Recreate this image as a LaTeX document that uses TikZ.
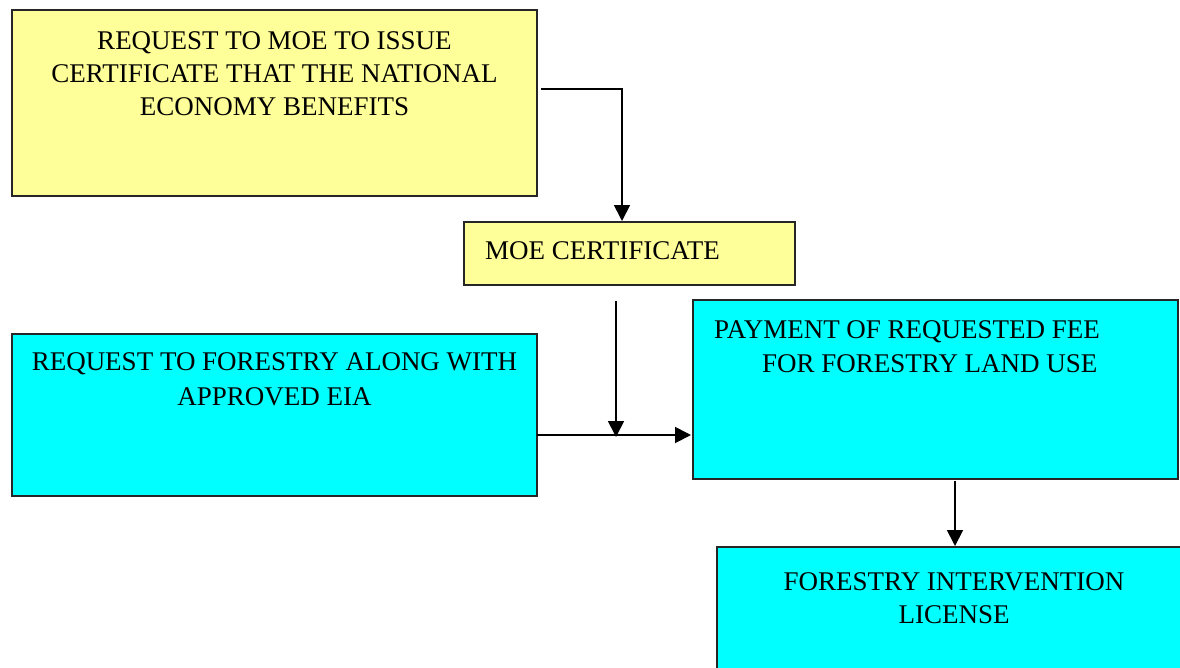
\documentclass[tikz,border=0pt]{standalone}
\usepackage{fontspec}
\setmainfont{Liberation Serif}
\usetikzlibrary{arrows.meta}
\definecolor{boxyellow}{HTML}{FFFF99}
\definecolor{boxcyan}{HTML}{00FFFF}
\tikzset{
  box/.style={draw=black!85, line width=1.8pt, rectangle},
  ybox/.style={box, fill=boxyellow},
  cbox/.style={box, fill=boxcyan},
  lbl/.style={inner sep=0pt, anchor=base, font=\fontsize{27}{33}\selectfont},
  lbll/.style={inner sep=0pt, anchor=base west, font=\fontsize{27}{33}\selectfont},
  conn/.style={draw=black, line width=1.8pt, -{Triangle[width=16pt,length=16pt]}}
}
\begin{document}
\begin{tikzpicture}[x=1pt,y=-1pt]
\useasboundingbox[fill=white] (0,0) rectangle (1180,667);
% boxes
\path[ybox] (12,10) rectangle (537,196);
\node[inner sep=0pt] (b1) at (274.5,103) {};
\path[ybox] (464,222) rectangle (795,285);
\node[inner sep=0pt] (b2) at (629.5,253.5) {};
\path[cbox] (12,334) rectangle (537,496);
\node[inner sep=0pt] (b3) at (274.5,415) {};
\path[cbox] (693,300) rectangle (1178,479);
\node[inner sep=0pt] (b4) at (935.5,389.5) {};
\path[cbox] (717,547) rectangle (1190,680);
\node[inner sep=0pt] (b5) at (954,610) {};
% texts
\node[lbl] (t1a) at (274.5,49) {REQUEST TO MOE TO ISSUE};
\node[lbl] (t1b) at (274.5,82) {CERTIFICATE THAT THE NATIONAL};
\node[lbl] (t1c) at (274.5,115) {ECONOMY BENEFITS};
\node[lbll] (t2) at (485,259) {MOE CERTIFICATE};
\node[lbl] (t3a) at (274.5,370) {REQUEST TO FORESTRY ALONG WITH};
\node[lbl] (t3b) at (274.5,405) {APPROVED EIA};
\node[lbll] (t4a) at (714,338) {PAYMENT OF REQUESTED FEE};
\node[lbll] (t4b) at (762,372) {FOR FORESTRY LAND USE};
\node[lbl] (t5a) at (954,590) {FORESTRY INTERVENTION};
\node[lbl] (t5b) at (954,623) {LICENSE};
% connector coordinates
\coordinate (c1s) at (541,89);
\coordinate (c1k) at (622,89);
\coordinate (c1e) at (622,221);
\coordinate (c2s) at (616,301);
\coordinate (c2e) at (616,437);
\coordinate (c3s) at (537,435);
\coordinate (c3e) at (691,435);
\coordinate (c4s) at (955,481);
\coordinate (c4e) at (955,546);
% connectors
\draw[conn] (c1s) -- (c1k) -- (c1e);
\draw[conn] (c2s) -- (c2e);
\draw[conn] (c3s) -- (c3e);
\draw[conn] (c4s) -- (c4e);
\end{tikzpicture}
\end{document}
